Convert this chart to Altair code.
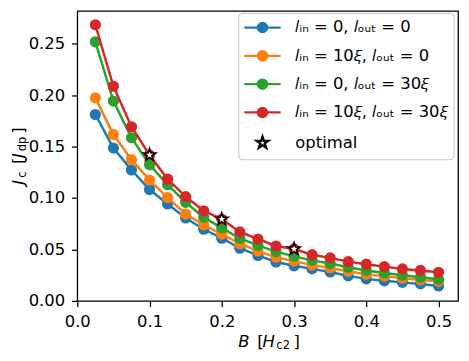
import math
import altair as alt
import pandas as pd

# ---------------- data ----------------
B_VALUES = [0.025, 0.05, 0.075, 0.1, 0.125, 0.15, 0.175, 0.2, 0.225, 0.25,
            0.275, 0.3, 0.325, 0.35, 0.375, 0.4, 0.425, 0.45, 0.475, 0.5]

SERIES = [
    "𝑙ᵢₙ = 0, 𝑙ₒᵤₜ = 0",
    "𝑙ᵢₙ = 10𝜉, 𝑙ₒᵤₜ = 0",
    "𝑙ᵢₙ = 0, 𝑙ₒᵤₜ = 30𝜉",
    "𝑙ᵢₙ = 10𝜉, 𝑙ₒᵤₜ = 30𝜉",
]
OPT_LABEL = "optimal"

J_S1 = [0.1813, 0.1486, 0.1273, 0.1083, 0.0943, 0.0806, 0.0697, 0.0610, 0.0512, 0.0442,
        0.0378, 0.0341, 0.0311, 0.0281, 0.0243, 0.0214, 0.0195, 0.0180, 0.0165, 0.0145]
J_S2 = [0.1975, 0.1618, 0.1374, 0.1175, 0.1005, 0.0845, 0.0739, 0.0650, 0.0556, 0.0485,
        0.0424, 0.0387, 0.0348, 0.0320, 0.0287, 0.0259, 0.0241, 0.0220, 0.0204, 0.0190]
J_S3 = [0.2520, 0.1944, 0.1587, 0.1325, 0.1130, 0.0959, 0.0812, 0.0710, 0.0607, 0.0540,
        0.0479, 0.0433, 0.0394, 0.0363, 0.0327, 0.0296, 0.0272, 0.0250, 0.0229, 0.0211]
J_S4 = [0.2686, 0.2088, 0.1694, 0.1419, 0.1185, 0.1014, 0.0876, 0.0795, 0.0671, 0.0602,
        0.0534, 0.0505, 0.0449, 0.0418, 0.0382, 0.0357, 0.0333, 0.0311, 0.0296, 0.0278]
J_ALL = [J_S1, J_S2, J_S3, J_S4]

OPT_B = [0.1, 0.2, 0.3]
OPT_J = [0.1419, 0.0795, 0.0505]

X_TICKS = [0.0, 0.1, 0.2, 0.3, 0.4, 0.5]
Y_TICKS = [0.0, 0.05, 0.10, 0.15, 0.20, 0.25]
X_DOMAIN = [0.0, 0.527]
Y_DOMAIN = [0.0, 0.282]

COLORS = ["#1f77b4", "#ff7f0e", "#2ca02c", "#d62728"]

# ---------------- tables ----------------
rows = []
for name, vals in zip(SERIES, J_ALL):
    for b, j in zip(B_VALUES, vals):
        rows.append({"B": b, "J": j, "series": name})
df = pd.DataFrame(rows)
df_opt = pd.DataFrame({"B": OPT_B, "J": OPT_J, "series": [OPT_LABEL] * len(OPT_B)})
ONE = pd.DataFrame({"k": [0]})

# ---------------- styles ----------------
FONT = "DejaVu Sans"
FS = 16.7
SUB = 11.7
W, H = 387.5, 295


def star_path(r_out, ratio=0.381966):
    pts = []
    for i in range(10):
        ang = math.radians(-90 + 36 * i)
        r = r_out if i % 2 == 0 else r_out * ratio
        pts.append(f"{r * math.cos(ang):.4f},{r * math.sin(ang):.4f}")
    return "M" + "L".join(pts) + "Z"


STAR_DATA = star_path(1.0)
STAR_LEG = star_path(1.25)
LINE_DOT = "M-3.7,0L3.7,0M0.94,0A0.94,0.94,0,1,1,-0.94,0A0.94,0.94,0,1,1,0.94,0Z"

axis_common = dict(
    grid=False, domain=False, tickSize=5.8, tickWidth=1.3, tickColor="black",
    labelFontSize=FS, labelFont=FONT, labelColor="black", labelPadding=7,
    labelFlush=False, title=None,
)
X = alt.X("B:Q", scale=alt.Scale(domain=X_DOMAIN, nice=False, zero=False),
          axis=alt.Axis(values=X_TICKS, format=".1f", **axis_common))
Y = alt.Y("J:Q", scale=alt.Scale(domain=Y_DOMAIN, nice=False, zero=False),
          axis=alt.Axis(values=Y_TICKS, format=".2f", **axis_common))

color_scale = alt.Scale(domain=SERIES + [OPT_LABEL], range=COLORS + ["white"])
stroke_scale = alt.Scale(domain=SERIES, range=COLORS)

legend = alt.Legend(
    title=None, orient="none", legendX=164, legendY=2,
    symbolType=alt.ExprRef(expr=f"datum.value === '{OPT_LABEL}' ? '{STAR_LEG}' : '{LINE_DOT}'"),
    symbolSize=100, symbolStrokeWidth=2.3,
    symbolStrokeColor=alt.ExprRef(expr=f"datum.value === '{OPT_LABEL}' ? 'black' : scale('color', datum.value)"),
    symbolOffset=9.65, labelOffset=25, padding=6.5, rowPadding=9.8,
    labelFontSize=FS, labelFont=FONT, labelColor="black", labelLimit=400,
    strokeColor="#cccccc", fillColor="rgba(255,255,255,0.8)", cornerRadius=4,
)

layers = []
base = alt.Chart(df)
for name in SERIES:
    sub = base.transform_filter(alt.datum.series == name)
    layers.append(sub.mark_line(strokeWidth=2.5).encode(
        x=X, y=Y, stroke=alt.Stroke("series:N", scale=stroke_scale, legend=None)))
    layers.append(sub.mark_point(filled=True, size=130, opacity=1).encode(
        x=X, y=Y, color=alt.Color("series:N", scale=color_scale, legend=legend)))

layers.append(alt.Chart(df_opt).mark_point(
    shape=STAR_DATA, size=170, filled=True, fill="white", stroke="black",
    strokeWidth=1.6, opacity=1).encode(x=X, y=Y))


def piece(txt, x, y, size, italic, angle=0):
    props = dict(text=txt, font=FONT, fontSize=size, align="left",
                 baseline="alphabetic", color="black")
    if italic:
        props["fontStyle"] = "italic"
    if angle:
        props["angle"] = angle
    return alt.Chart(ONE).mark_text(**props).encode(x=alt.value(x), y=alt.value(y))


# x-axis title:  B [H_c2]
xc, xb = W / 2, H + 46.5
for txt, dx, size, it, dy in [("B", -30.0, FS, True, 0), ("[", -10.7, FS, False, 0),
                              ("H", -5.2, FS, True, 0), ("c2", 8.8, SUB, False, 2.5),
                              ("]", 26.2, FS, False, 0)]:
    layers.append(piece(txt, xc + dx, xb + dy, size, it))

# y-axis title:  J_c [J_dp]  (rotated, reading upward)
yc, yb = H / 2, -54.5
for txt, off, size, it, dz in [("J", 0.0, FS, True, 0), ("c", 6.9, SUB, False, 2.5),
                               ("[", 21.1, FS, False, 0), ("J", 27.1, FS, True, 0),
                               ("dp", 34.0, SUB, False, 2.5), ("]", 51.9, FS, False, 0)]:
    layers.append(piece(txt, yb + dz, yc + 29.2 - off, size, it, angle=270))

chart = alt.layer(*layers).properties(
    width=W, height=H,
    autosize=alt.AutoSizeParams(type="none"),
    padding={"left": 70.5, "top": 0, "right": 3, "bottom": 50},
).configure_view(stroke="black", strokeWidth=1.3).configure_legend(strokeWidth=1.1)

chart.save("out.html", embed_options={"renderer": "svg", "actions": False})
